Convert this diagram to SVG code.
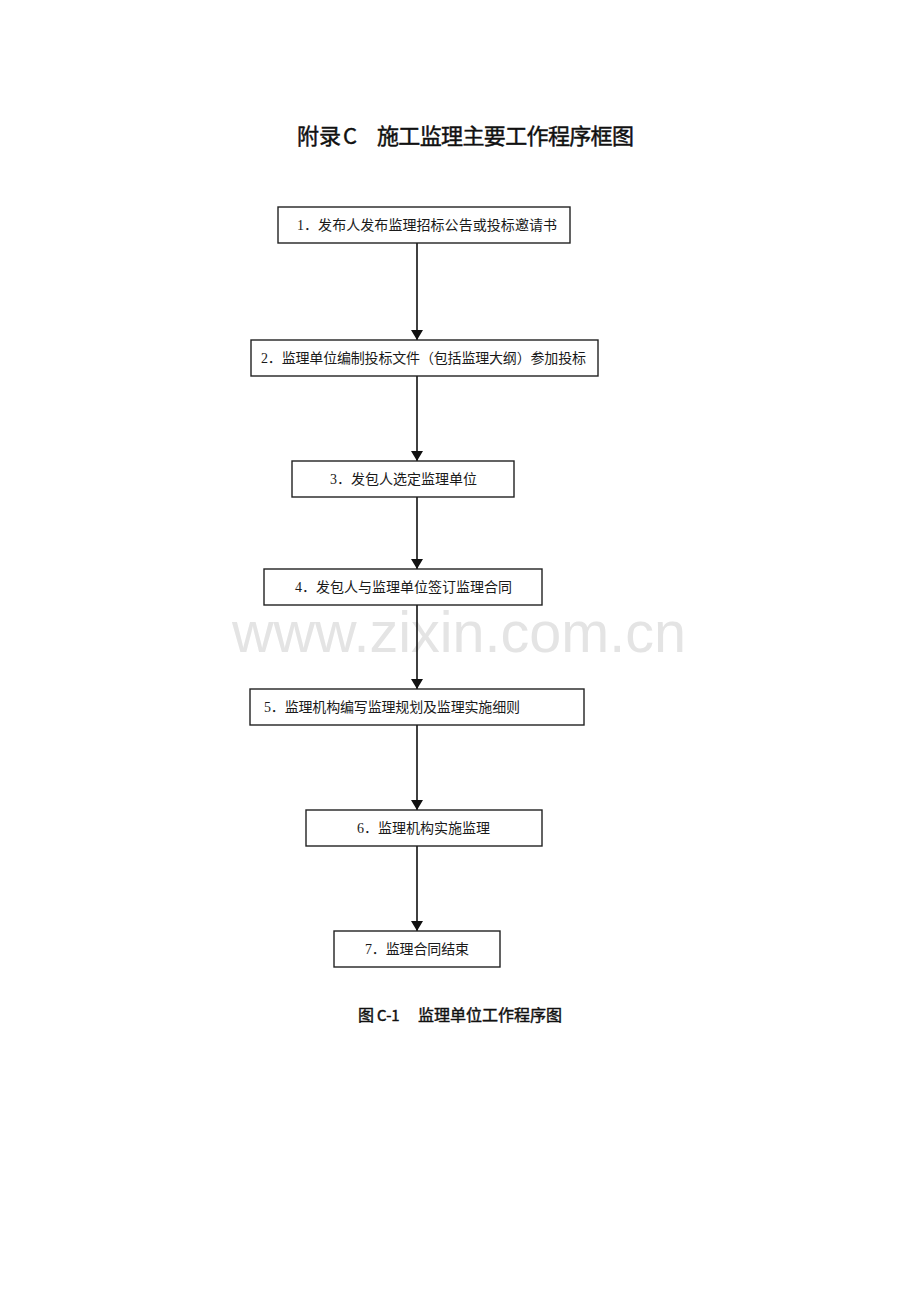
<svg xmlns="http://www.w3.org/2000/svg" width="920" height="1302" viewBox="0 0 920 1302">
<style>
.bg{fill:#ffffff}
.box{fill:#ffffff;stroke:#222222;stroke-width:1.4}
.t{font-family:"Liberation Serif","Noto Sans CJK SC",serif;font-size:14px;fill:#1a1a1a}
.h{font-family:"Noto Sans CJK SC","Liberation Sans",sans-serif;font-weight:400;fill:#111111;stroke:#111111;stroke-width:0.45}
.wm{font-family:"Liberation Sans",Arial,sans-serif;font-size:57px;fill:#e4e4e4}
.c{stroke:#111111;stroke-width:1.6;fill:none}
</style>
<defs>
<marker id="ah" viewBox="0 0 10 12" refX="10" refY="6" markerWidth="10" markerHeight="12" markerUnits="userSpaceOnUse" orient="auto">
<path d="M0,0 L10,6 L0,12 z" fill="#111111"/>
</marker>
</defs>
<rect class="bg" x="0" y="0" width="920" height="1302"/>
<g id="title">
<text class="h" x="297" y="144" font-size="22">附录</text>
<text class="h" x="343" y="144" font-size="22" font-family="Liberation Sans, sans-serif">C</text>
<text class="h" x="377" y="144" font-size="22" textLength="257" lengthAdjust="spacing">施工监理主要工作程序框图</text>
</g>
<text class="wm" x="232" y="652" textLength="454" lengthAdjust="spacingAndGlyphs">www.zixin.com.cn</text>
<g id="connectors">
<line class="c" x1="417" y1="243" x2="417" y2="340" marker-end="url(#ah)"/>
<line class="c" x1="417" y1="376" x2="417" y2="461" marker-end="url(#ah)"/>
<line class="c" x1="417" y1="497" x2="417" y2="569" marker-end="url(#ah)"/>
<line class="c" x1="417" y1="605" x2="417" y2="689" marker-end="url(#ah)"/>
<line class="c" x1="417" y1="725" x2="417" y2="810" marker-end="url(#ah)"/>
<line class="c" x1="417" y1="846" x2="417" y2="931" marker-end="url(#ah)"/>
</g>
<g id="node1">
<rect class="box" x="278" y="207" width="292" height="36"/>
<text class="t" x="297" y="230" textLength="260" lengthAdjust="spacing">1．发布人发布监理招标公告或投标邀请书</text>
</g>
<g id="node2">
<rect class="box" x="251" y="340" width="347" height="36"/>
<text class="t" x="261" y="363" textLength="325" lengthAdjust="spacing">2．监理单位编制投标文件（包括监理大纲）参加投标</text>
</g>
<g id="node3">
<rect class="box" x="292" y="461" width="222" height="36"/>
<text class="t" x="330" y="484" textLength="147" lengthAdjust="spacing">3．发包人选定监理单位</text>
</g>
<g id="node4">
<rect class="box" x="264" y="569" width="278" height="36"/>
<text class="t" x="295" y="592" textLength="217" lengthAdjust="spacing">4．发包人与监理单位签订监理合同</text>
</g>
<g id="node5">
<rect class="box" x="250" y="689" width="334" height="36"/>
<text class="t" x="264" y="712" textLength="256" lengthAdjust="spacing">5．监理机构编写监理规划及监理实施细则</text>
</g>
<g id="node6">
<rect class="box" x="306" y="810" width="236" height="36"/>
<text class="t" x="357" y="833" textLength="133" lengthAdjust="spacing">6．监理机构实施监理</text>
</g>
<g id="node7">
<rect class="box" x="334" y="931" width="166" height="36"/>
<text class="t" x="365" y="954" textLength="104" lengthAdjust="spacing">7．监理合同结束</text>
</g>
<g id="caption">
<text class="h" x="358" y="1021" font-size="16">图</text>
<text class="h" x="377" y="1021" font-size="15" font-family="Liberation Mono, monospace">C-1</text>
<text class="h" x="418" y="1021" font-size="16" textLength="144" lengthAdjust="spacing">监理单位工作程序图</text>
</g>
</svg>
